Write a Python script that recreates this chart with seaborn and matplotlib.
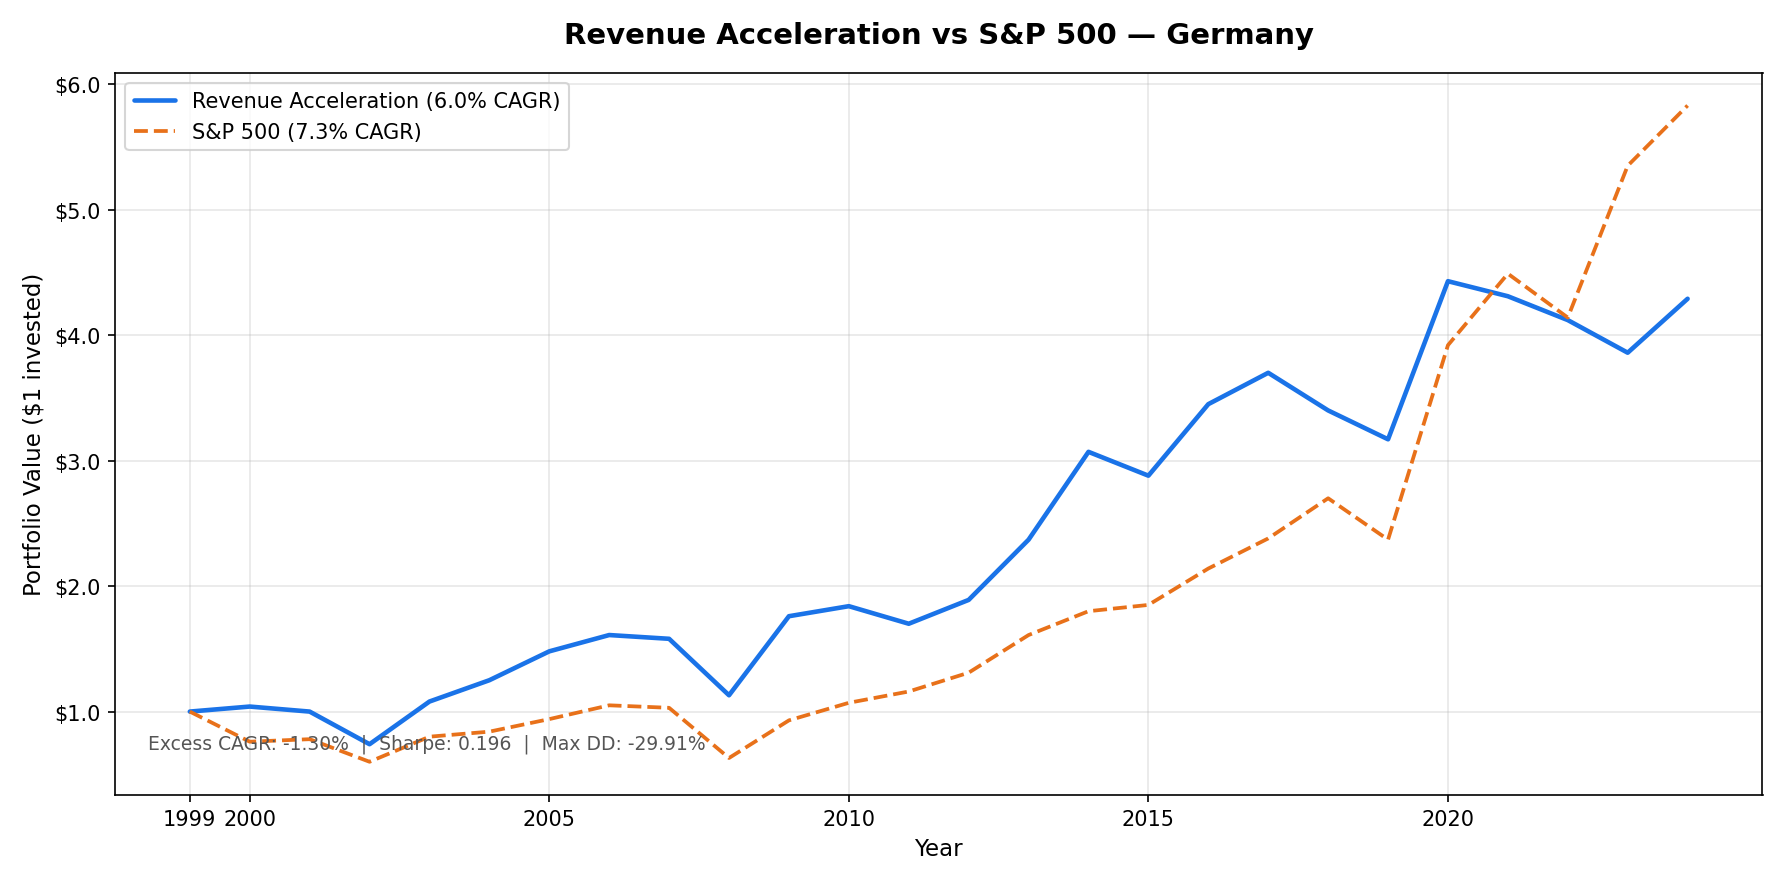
import matplotlib
matplotlib.use("Agg")
import matplotlib.pyplot as plt
import seaborn as sns
import pandas as pd
from matplotlib.ticker import FuncFormatter

years = list(range(1999, 2025))
strategy = [1.0, 1.04, 1.0, 0.74, 1.08, 1.25, 1.48, 1.61, 1.58, 1.13, 1.76, 1.84, 1.70, 1.89,
            2.37, 3.07, 2.88, 3.45, 3.70, 3.40, 3.17, 4.43, 4.31, 4.12, 3.86, 4.29]
sp500 = [1.0, 0.76, 0.78, 0.60, 0.80, 0.84, 0.94, 1.05, 1.03, 0.63, 0.93, 1.07, 1.16, 1.31,
         1.61, 1.80, 1.85, 2.14, 2.38, 2.70, 2.37, 3.92, 4.49, 4.14, 5.35, 5.83]
xticks = [1999, 2000, 2005, 2010, 2015, 2020]

sns.set_style("ticks", {"text.color": "black", "axes.labelcolor": "black",
                        "xtick.color": "black", "ytick.color": "black",
                        "axes.edgecolor": "black"})
plt.rcParams['font.family'] = ['DejaVu Sans']
fig, ax = plt.subplots(figsize=(11.9, 5.893), dpi=150)
df = pd.DataFrame({"Year": years, "s": strategy, "b": sp500})
sns.lineplot(data=df, x="Year", y="s", ax=ax, color="#1a73e8", linewidth=2.2,
             label="Revenue Acceleration (6.0% CAGR)")
sns.lineplot(data=df, x="Year", y="b", ax=ax, color="#e8711a", linewidth=1.8,
             linestyle="--", label="S&P 500 (7.3% CAGR)")
ax.set_xticks(xticks)
ax.yaxis.set_major_formatter(FuncFormatter(lambda v, p: f"${v:.1f}"))
ax.grid(True, alpha=0.3, color="#b0b0b0")
ax.set_xlabel("Year", fontsize=11)
ax.set_ylabel("Portfolio Value ($1 invested)", fontsize=11)
ax.set_title("Revenue Acceleration vs S&P 500 — Germany", fontsize=14, fontweight="bold", pad=14)
ax.legend(loc="upper left", fontsize=10)
ax.text(0.02, 0.064, "Excess CAGR: -1.30%  |  Sharpe: 0.196  |  Max DD: -29.91%",
        transform=ax.transAxes, fontsize=9, color="#555555")
for s in ax.spines.values():
    s.set_visible(True); s.set_color("black")
fig.tight_layout()
fig.savefig("out.png", dpi=150)
